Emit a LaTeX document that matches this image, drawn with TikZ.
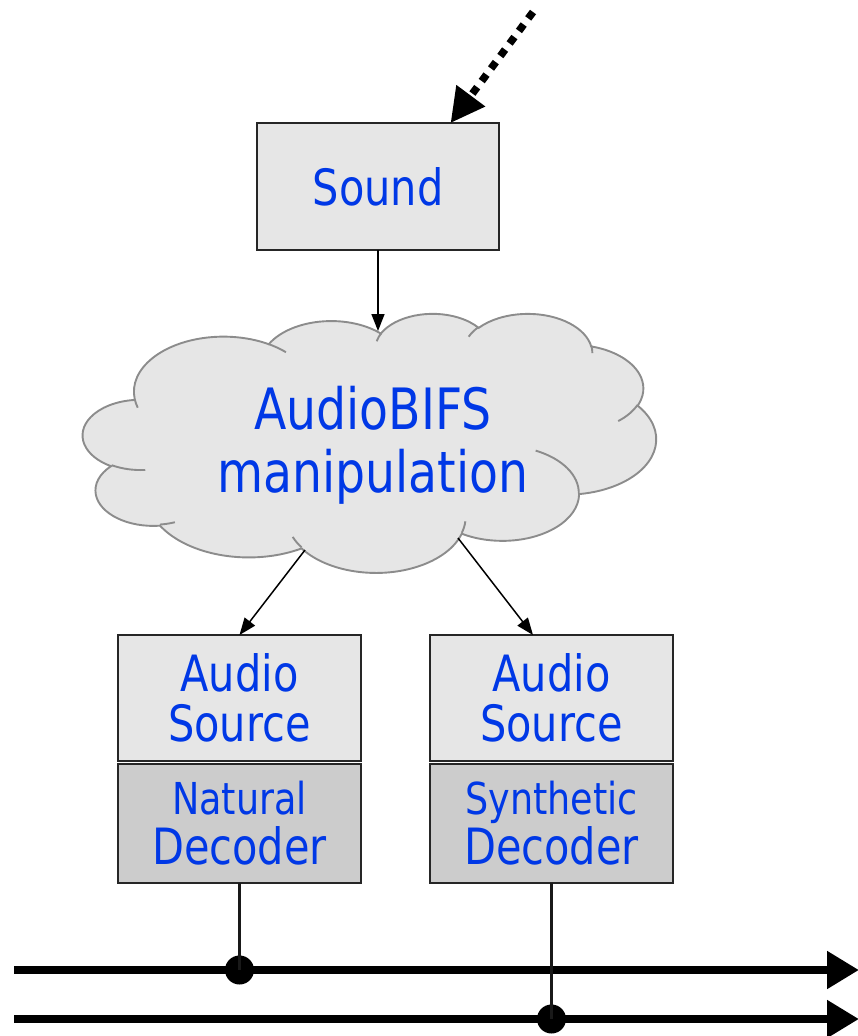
\documentclass[tikz,border=0pt]{standalone}
\usepackage{fontspec}
\usetikzlibrary{arrows.meta,calc}
\newfontfamily\dgfont[FakeStretch=0.83]{DejaVu Sans}
\definecolor{txtblue}{RGB}{0,56,230}
\definecolor{lightfill}{RGB}{230,230,230}
\definecolor{darkfill}{RGB}{204,204,204}
\definecolor{cloudedge}{RGB}{140,140,140}
% elliptical arc given by radii, start angle and sweep measured as visual angles
\newcommand\oarc[4]{arc[start angle={atan2((#1)*sin(#3),(#2)*cos(#3))},
  delta angle={mod(atan2((#1)*sin((#3)+(#4)),(#2)*cos((#3)+(#4)))-atan2((#1)*sin(#3),(#2)*cos(#3))+720,360)},
  x radius=#1, y radius=#2]}
\tikzset{
  box/.style={draw=black!85, line width=1.6pt, fill=lightfill, inner sep=0pt, outer sep=0pt,
    minimum width=243pt, text=txtblue, align=center, font=\dgfont\fontsize{50}{50}\selectfont},
  decbox/.style={box, fill=darkfill},
  conn/.style={line width=1.5pt, -{Triangle[length=17pt,width=13pt]}},
  feed/.style={line width=7.5pt, dash pattern=on 8pt off 7.6pt, -{Triangle[length=34pt,width=34pt]}},
  bus/.style={line width=8.5pt, -{Triangle[length=32pt,width=36pt]}},
  stem/.style={line width=2.3pt, draw=black!90},
  junction/.style={circle, fill=black, inner sep=0pt, minimum size=29pt},
  cloudbody/.style={draw=cloudedge, line width=1.9pt, fill=lightfill},
  crease/.style={draw=cloudedge, line width=1.9pt}
}
\begin{document}
\begin{tikzpicture}[x=1pt, y=-1pt]
\useasboundingbox (0,0) rectangle (857,1036);

% cloud outline and inner creases
\begin{scope}[shift={(83,313)}, x=1.32639pt, y=-0.59954pt]
  \path[cloudbody] (39.00,143.70)
    \oarc{67.53}{91.90}{-190.4875}{123.7805}
    \oarc{53.33}{72.67}{-144.1024}{89.9452}
    \oarc{43.65}{59.45}{-145.8079}{99.7230}
    \oarc{48.57}{65.95}{-130.9861}{117.2417}
    \oarc{53.33}{72.73}{-78.7089}{109.0269}
    \oarc{67.75}{92.20}{-46.2673}{130.2690}
    \oarc{57.85}{78.67}{0.6250}{114.0333}
    \oarc{67.52}{92.15}{22.4516}{115.1726}
    \oarc{77.20}{105.43}{66.2426}{75.7110}
    \oarc{43.60}{59.18}{-274.9421}{146.7356}
    \oarc{43.45}{59.45}{-246.8285}{152.5189}
    -- cycle;
  \path[crease]
    (46.93,261.77) \oarc{43.45}{59.45}{86.7420}{26.4295}
    (69.28,348.99) \oarc{43.60}{59.18}{73.6105}{11.4475}
    (164.78,390.90) \oarc{67.52}{92.15}{137.6242}{14.0811}
    (288.27,347.51) \oarc{67.52}{92.15}{6.4533}{15.9984}
    (341.29,229.54) \oarc{57.85}{78.67}{-70.2924}{70.9174}
    (417.98,153.54) \oarc{53.33}{72.73}{30.3180}{27.7515}
    (383.24,54.26) \oarc{48.57}{65.95}{-13.7443}{14.8589}
    (290.78,39.52) \oarc{48.57}{65.95}{-149.1815}{18.1954}
    (221.41,47.20) \oarc{43.65}{59.45}{-163.4943}{17.6864}
    (140.00,51.92) \oarc{67.53}{91.90}{-66.7070}{12.3194}
    (41.27,157.89) \oarc{67.53}{91.90}{157.6544}{11.8582};
\end{scope}
\node[text=txtblue, align=center, font=\dgfont\fontsize{57}{63}\selectfont] (manip) at (373,445) {AudioBIFS\\manipulation};

% boxes
\node[box, minimum width=242pt, minimum height=127pt] (sound) at (378,186.5) {Sound};
\node[box, minimum height=126pt] (src1) at (239.5,698) {Audio\\Source};
\node[decbox, minimum height=119pt] (dec1) at (239.5,823.5) {{\fontsize{44}{50}\selectfont Natural}\\Decoder};
\node[box, minimum height=126pt] (src2) at (551.5,698) {Audio\\Source};
\node[decbox, minimum height=119pt] (dec2) at (551.5,823.5) {{\fontsize{44}{50}\selectfont Synthetic}\\Decoder};

% anchor points on the cloud and free line ends
\coordinate (cin) at (378,331);
\coordinate (cl) at (305,550);
\coordinate (cr) at (458,538);
\coordinate (feedstart) at (533,12);
\coordinate (bus1s) at (14,970);
\coordinate (bus1e) at (859,970);
\coordinate (bus2s) at (14,1019);
\coordinate (bus2e) at (859,1019);

% connectors
\draw[feed] (feedstart) -- ($(sound.north west)!0.8!(sound.north east)$);
\draw[conn] (sound.south) -- (cin);
\draw[conn] (cl) -- (src1.north);
\draw[conn] (cr) -- ([xshift=-18.5pt]src2.north);

% output streams
\draw[bus] (bus1s) -- (bus1e);
\draw[bus] (bus2s) -- (bus2e);
\node[junction] (j1) at (239.5,970) {};
\node[junction] (j2) at (551.5,1019) {};
\draw[stem] (dec1.south) -- (j1.center);
\draw[stem] (dec2.south) -- (j2.center);
\end{tikzpicture}
\end{document}
